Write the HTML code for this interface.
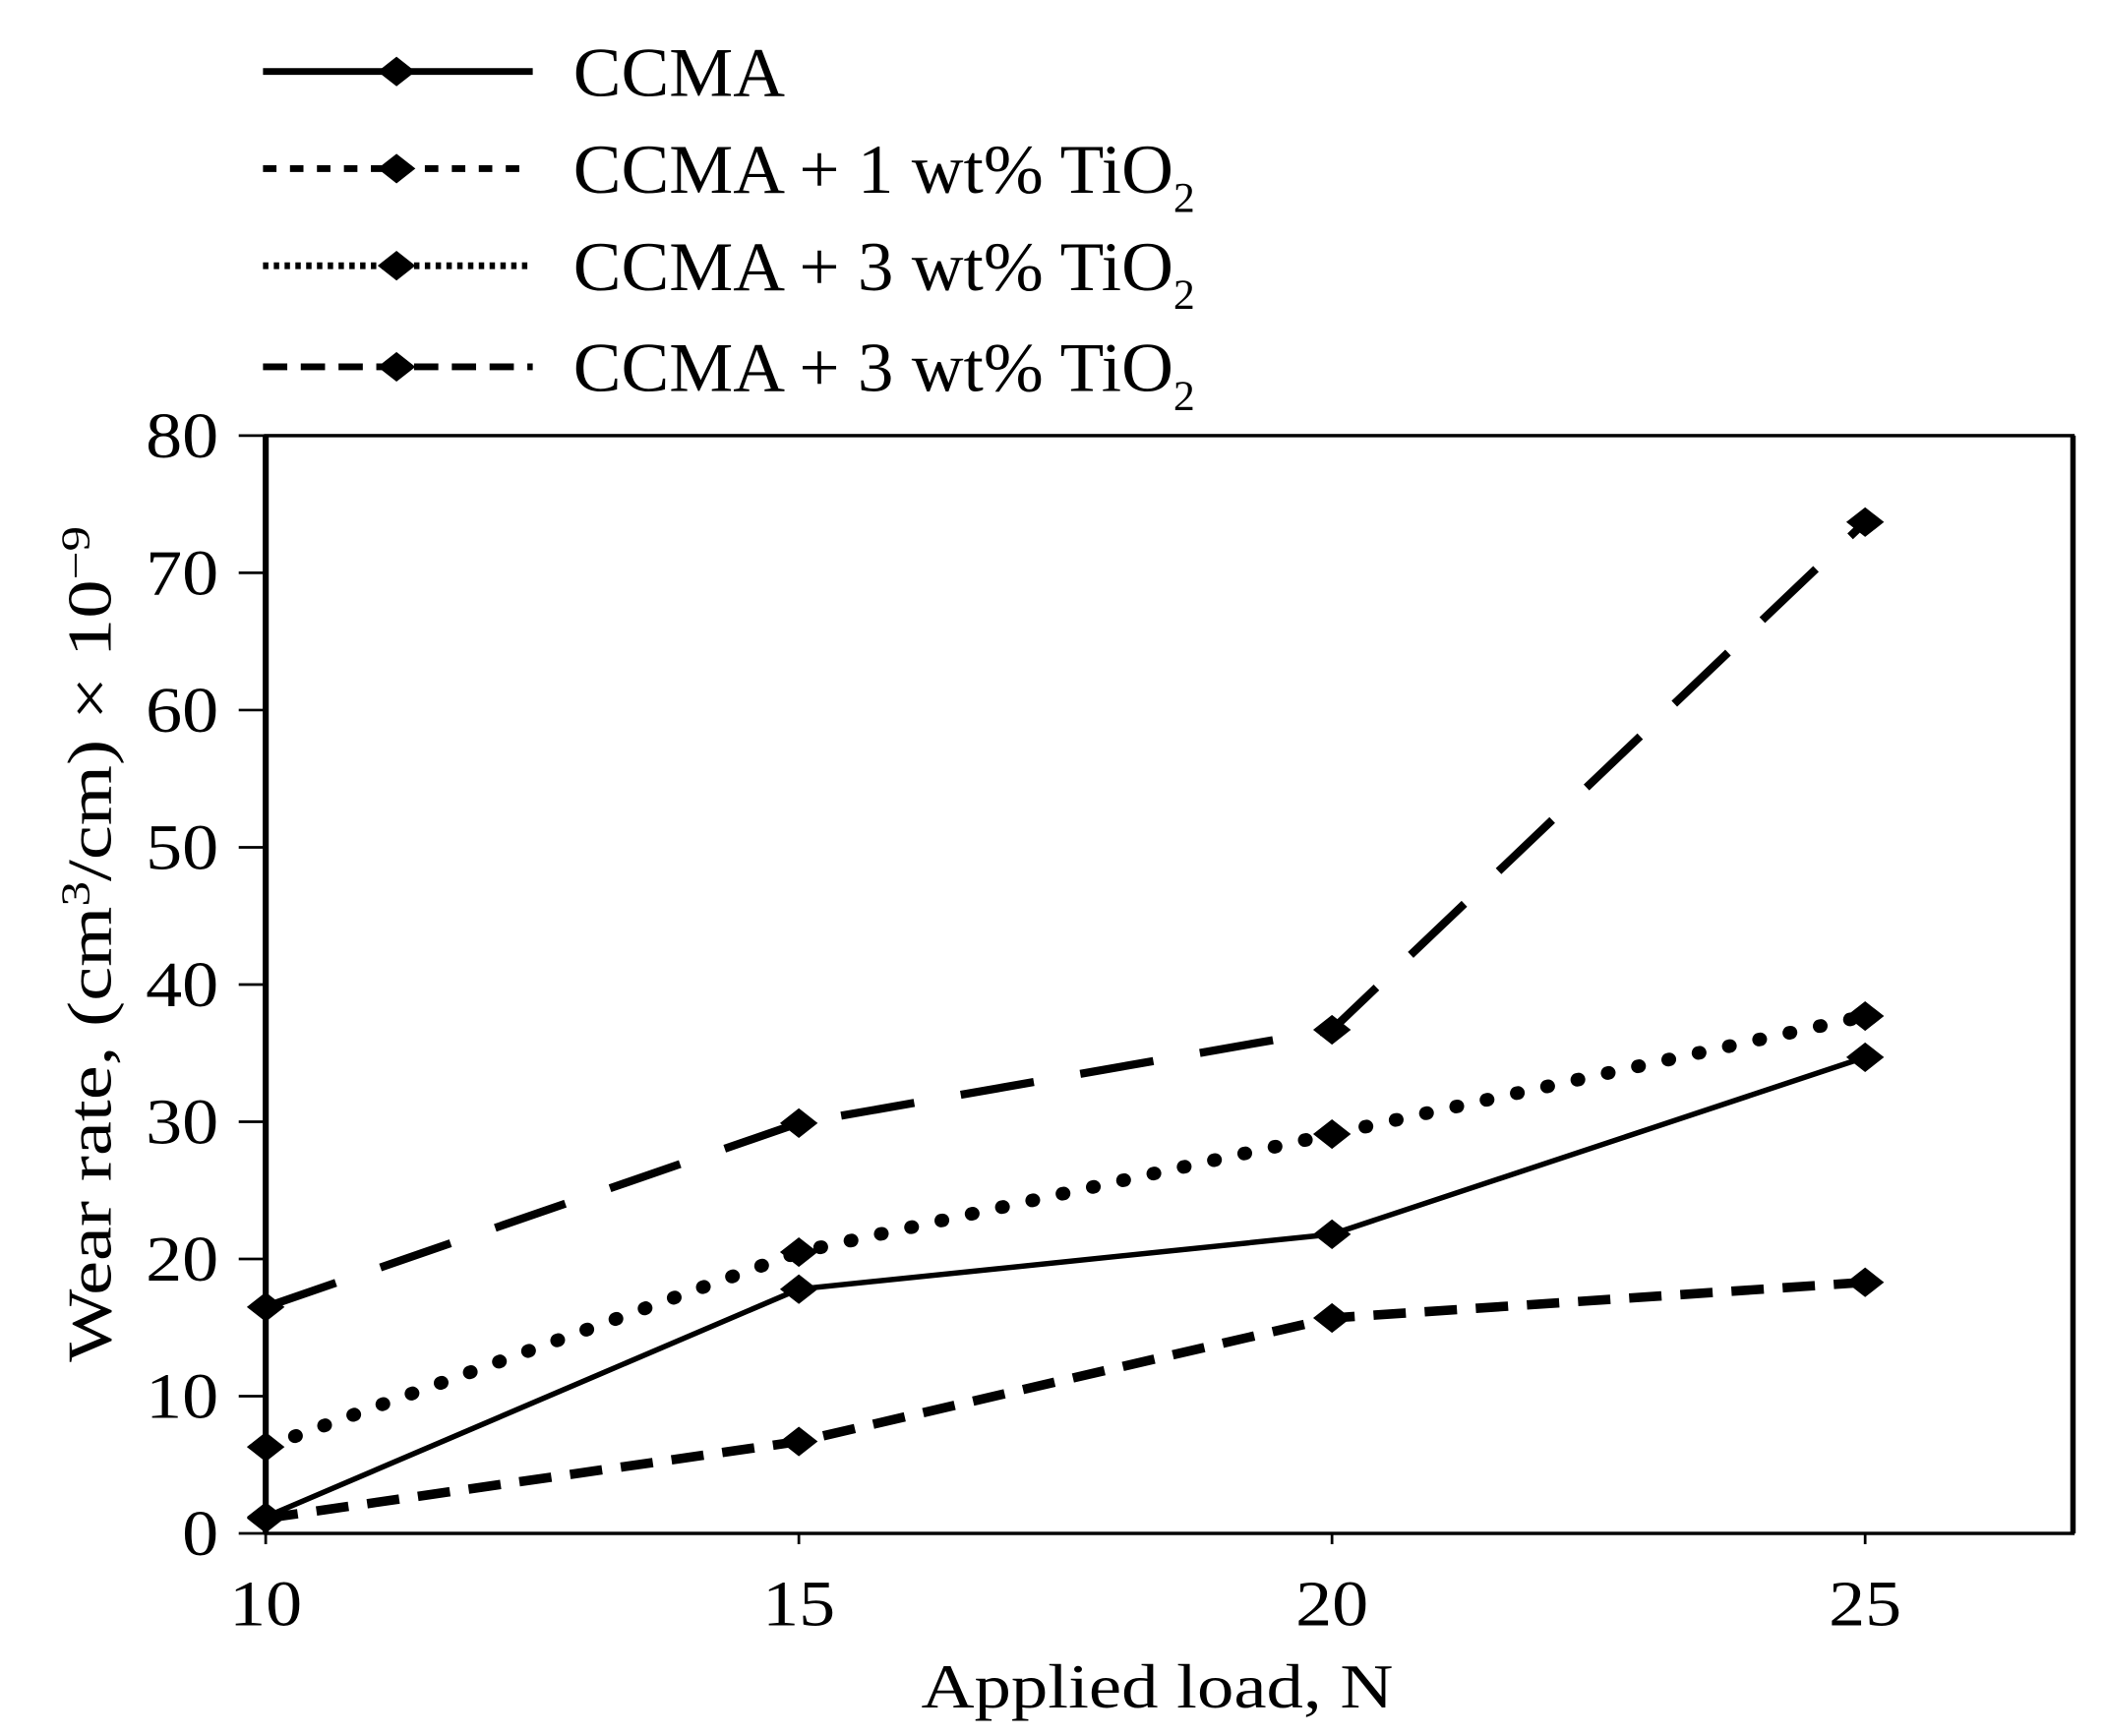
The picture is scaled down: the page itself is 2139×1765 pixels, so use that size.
<!DOCTYPE html>
<html><head><meta charset="utf-8"><style>
html,body{margin:0;padding:0;background:#fff;}
svg{display:block;font-family:"Liberation Serif","DejaVu Serif",serif;}
</style></head><body>
<svg id="chart" width="2139" height="1765" viewBox="0 0 1560 1287.2" xmlns="http://www.w3.org/2000/svg">
<g id="legend"></g>
<g id="axes"></g>
<g id="series"></g>
</svg>
<script>
const categories = [10, 15, 20, 25];
const ccma = [1.2, 17.8, 21.8, 34.7];
const ccma1 = [6.3, 20.5, 29.1, 37.7];
const ccma3a = [1.1, 6.7, 15.7, 18.3];
const ccma3b = [16.5, 29.9, 36.7, 73.7];
const yTicks = [0, 10, 20, 30, 40, 50, 60, 70, 80];
const xTicks = [10, 15, 20, 25];
const seriesNames = ["CCMA", "CCMA + 1 wt% TiO", "CCMA + 3 wt% TiO", "CCMA + 3 wt% TiO"];

const NS = "http://www.w3.org/2000/svg";
const L = 197, R = 1537, T = 323, B = 1137;
const xs = v => L + (v - 10) / 5 * 395.3;
const ys = v => B - v / 80 * (B - T);
function mk(tag, attrs, parent) {
  const e = document.createElementNS(NS, tag);
  for (const k in attrs) e.setAttribute(k, attrs[k]);
  parent.appendChild(e);
  return e;
}
const axes = document.getElementById('axes');
const series = document.getElementById('series');
const legend = document.getElementById('legend');

let fr = mk('rect', {x: L, y: T, width: R - L, height: B - T, fill: 'none', stroke: '#000', 'stroke-width': 2.5}, axes);


let la = mk('line', {x1: L, y1: T, x2: L, y2: B, stroke: '#000', 'stroke-width': 4.5}, axes);


let ra = mk('line', {x1: R, y1: T, x2: R, y2: B, stroke: '#000', 'stroke-width': 4}, axes);



yTicks.forEach(v => {
  const t = mk('line', {x1: L - 20, y1: ys(v), x2: L, y2: ys(v), stroke: '#000', 'stroke-width': 2}, axes);
  
  
  const s = String(v);
  const tx = mk('text', {x: 162, y: ys(v) + 16, 'text-anchor': 'end', 'font-size': 48, textLength: 27 * s.length, lengthAdjust: 'spacingAndGlyphs'}, axes);
  tx.textContent = s;
  
  
});
xTicks.forEach(v => {
  const t = mk('line', {x1: xs(v), y1: B, x2: xs(v), y2: B + 8, stroke: '#000', 'stroke-width': 2}, axes);
  
  
  const s = String(v);
  const tx = mk('text', {x: xs(v), y: B + 68, 'text-anchor': 'middle', 'font-size': 48, textLength: 27 * s.length, lengthAdjust: 'spacingAndGlyphs'}, axes);
  tx.textContent = s;
  
  
});
const xt = mk('text', {x: 858, y: 1266, 'text-anchor': 'middle', 'font-size': 46, textLength: 350, lengthAdjust: 'spacingAndGlyphs'}, axes);
xt.textContent = 'Applied load, N';


const yt = mk('text', {transform: 'translate(82,700) rotate(-90)', 'text-anchor': 'middle', 'font-size': 46, textLength: 620, lengthAdjust: 'spacingAndGlyphs'}, axes);
yt.innerHTML = 'Wear rate, (cm<tspan dy="-16" font-size="30">3</tspan><tspan dy="16">/cm) × 10</tspan><tspan dy="-16" font-size="30">−9</tspan>';



const styles = [
  {dash: null, w: 4},
  {dash: '1 22', w: 10, cap: 'round'},
  {dash: '24 14', w: 7},
  {dash: '55 35', w: 6}
];
const data = [ccma, ccma1, ccma3a, ccma3b];
function diamond(cx, cy, s, parent) {
  return mk('path', {d: `M${cx - 14 * s},${cy} L${cx},${cy - 11 * s} L${cx + 14 * s},${cy} L${cx},${cy + 11 * s} Z`, fill: '#000'}, parent);
}
data.forEach((arr, i) => {
  const st = styles[i];
  const pts = arr.map((v, j) => xs(categories[j]) + ',' + ys(v)).join(' ');
  const pl = mk('polyline', {points: pts, fill: 'none', stroke: '#000', 'stroke-width': st.w, 'stroke-linecap': st.cap || 'butt'}, series);
  if (st.dash) pl.setAttribute('stroke-dasharray', st.dash);
  
  
  arr.forEach((v, j) => {
    const d = diamond(xs(categories[j]), ys(v), 1, series);
    
    
  });
});

const legY = [53, 125, 197, 272];
const legStyles = [
  {dash: null, w: 5},
  {dash: '10 10', w: 5},
  {dash: '4 4', w: 5},
  {dash: '18 10', w: 5}
];
seriesNames.forEach((n, i) => {
  const g = mk('g', {}, legend);
  
  
  const ln = mk('line', {x1: 195, y1: legY[i], x2: 395, y2: legY[i], stroke: '#000', 'stroke-width': legStyles[i].w}, g);
  if (legStyles[i].dash) ln.setAttribute('stroke-dasharray', legStyles[i].dash);
  
  
  const d = diamond(294, legY[i], 1, g);
  
  
  const t = mk('text', {x: 425, y: legY[i] + 18, 'font-size': 52}, g);
  if (i === 0) {
    t.setAttribute('textLength', 157);
    t.setAttribute('lengthAdjust', 'spacingAndGlyphs');
    t.textContent = n;
  } else {
    t.innerHTML = '<tspan textLength="445" lengthAdjust="spacingAndGlyphs">' + n + '</tspan><tspan dy="14" font-size="32">2</tspan>';
  }
  
  
});
</script>
</body></html>
